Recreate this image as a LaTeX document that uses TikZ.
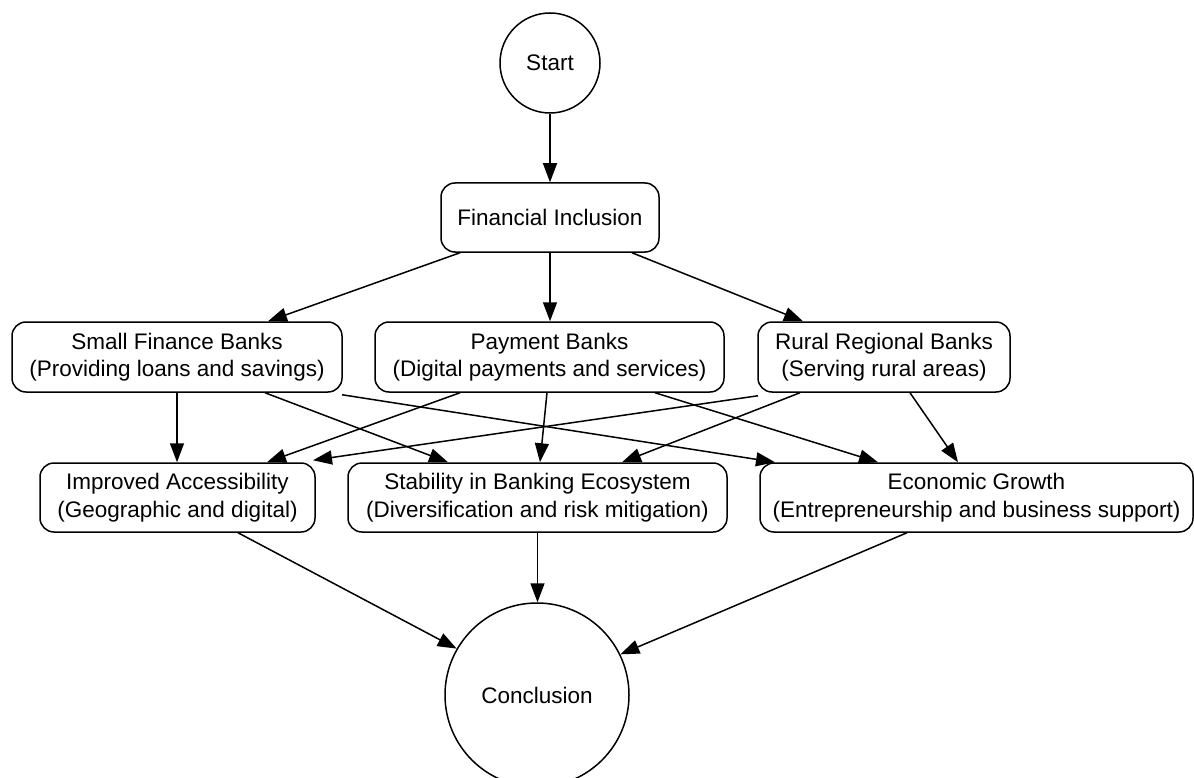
\documentclass[tikz,border=0pt]{standalone}
\usepackage{fontspec}
\setmainfont{Liberation Sans}
\usetikzlibrary{arrows.meta}
\begin{document}
\begin{tikzpicture}[x=1pt,y=-1pt,
  lbl/.style={font=\fontsize{22.5}{27.5}\selectfont},
  box/.style={lbl, draw, line width=1.5pt, rounded corners=14pt, align=center, inner sep=0pt, minimum height=69pt},
  circ/.style={lbl, draw, circle, line width=1.5pt, inner sep=0pt},
  arr/.style={line width=1.5pt, -{Triangle[length=19pt,width=14pt]}}]
\useasboundingbox (0,0) rectangle (1194,778);
\clip (0,0) rectangle (1194,778);
% nodes
\node[circ, minimum size=100pt] (start) at (550,63) {Start};
\node[box, minimum width=218pt] (fi) at (550,217.5) {Financial Inclusion};
\node[box, minimum width=330pt, minimum height=70pt] (sfb) at (177,357) {Small Finance Banks\\(Providing loans and savings)};
\node[box, minimum width=349pt, minimum height=70pt] (pb) at (549.5,357) {Payment Banks\\(Digital payments and services)};
\node[box, minimum width=252pt, minimum height=70pt] (rrb) at (884,357) {Rural Regional Banks\\(Serving rural areas)};
\node[box, minimum width=275pt] (ia) at (177.5,497.5) {Improved Accessibility\\(Geographic and digital)};
\node[box, minimum width=379pt] (st) at (537.5,497.5) {Stability in Banking Ecosystem\\(Diversification and risk mitigation)};
\node[box, minimum width=433pt] (eg) at (976.5,497.5) {Economic Growth\\(Entrepreneurship and business support)};
\node[circ, minimum size=184pt] (conc) at (537,695) {Conclusion};
% edges
\draw[arr] (start.south) -- (fi.north);
\draw[arr] ([xshift=-90pt]fi.south) -- ([xshift=91pt]sfb.north);
\draw[arr] (fi.south) -- (fi.south |- pb.north);
\draw[arr] ([xshift=82pt]fi.south) -- ([xshift=-81pt]rrb.north);
\draw[arr] (sfb.south) -- (sfb.south |- ia.north);
\draw[arr] ([xshift=88pt]sfb.south) -- ([xshift=-89.5pt]st.north);
\draw[arr] ([xshift=165pt,yshift=-2pt]sfb.south) -- ([xshift=-201.5pt]eg.north);
\draw[arr] ([xshift=-89.5pt]pb.south) -- ([xshift=89.5pt]ia.north);
\draw[arr] ([xshift=-2.5pt]pb.south) -- ([xshift=2.5pt]st.north);
\draw[arr] ([xshift=105.5pt]pb.south) -- ([xshift=-98.5pt]eg.north);
\draw[arr] ([xshift=-126pt,yshift=-3pt]rrb.south) -- ([xshift=135.5pt,yshift=2pt]ia.north);
\draw[arr] ([xshift=-84pt]rrb.south) -- ([xshift=84.5pt]st.north);
\draw[arr] ([xshift=26pt]rrb.south) -- ([xshift=-18.5pt]eg.north);
\draw[arr] ([xshift=60.5pt]ia.south) -- (conc.150);
\draw[arr] (st.south) -- (st.south |- conc.north);
\draw[arr] ([xshift=-69.5pt]eg.south) -- (conc.26);
\end{tikzpicture}
\end{document}
